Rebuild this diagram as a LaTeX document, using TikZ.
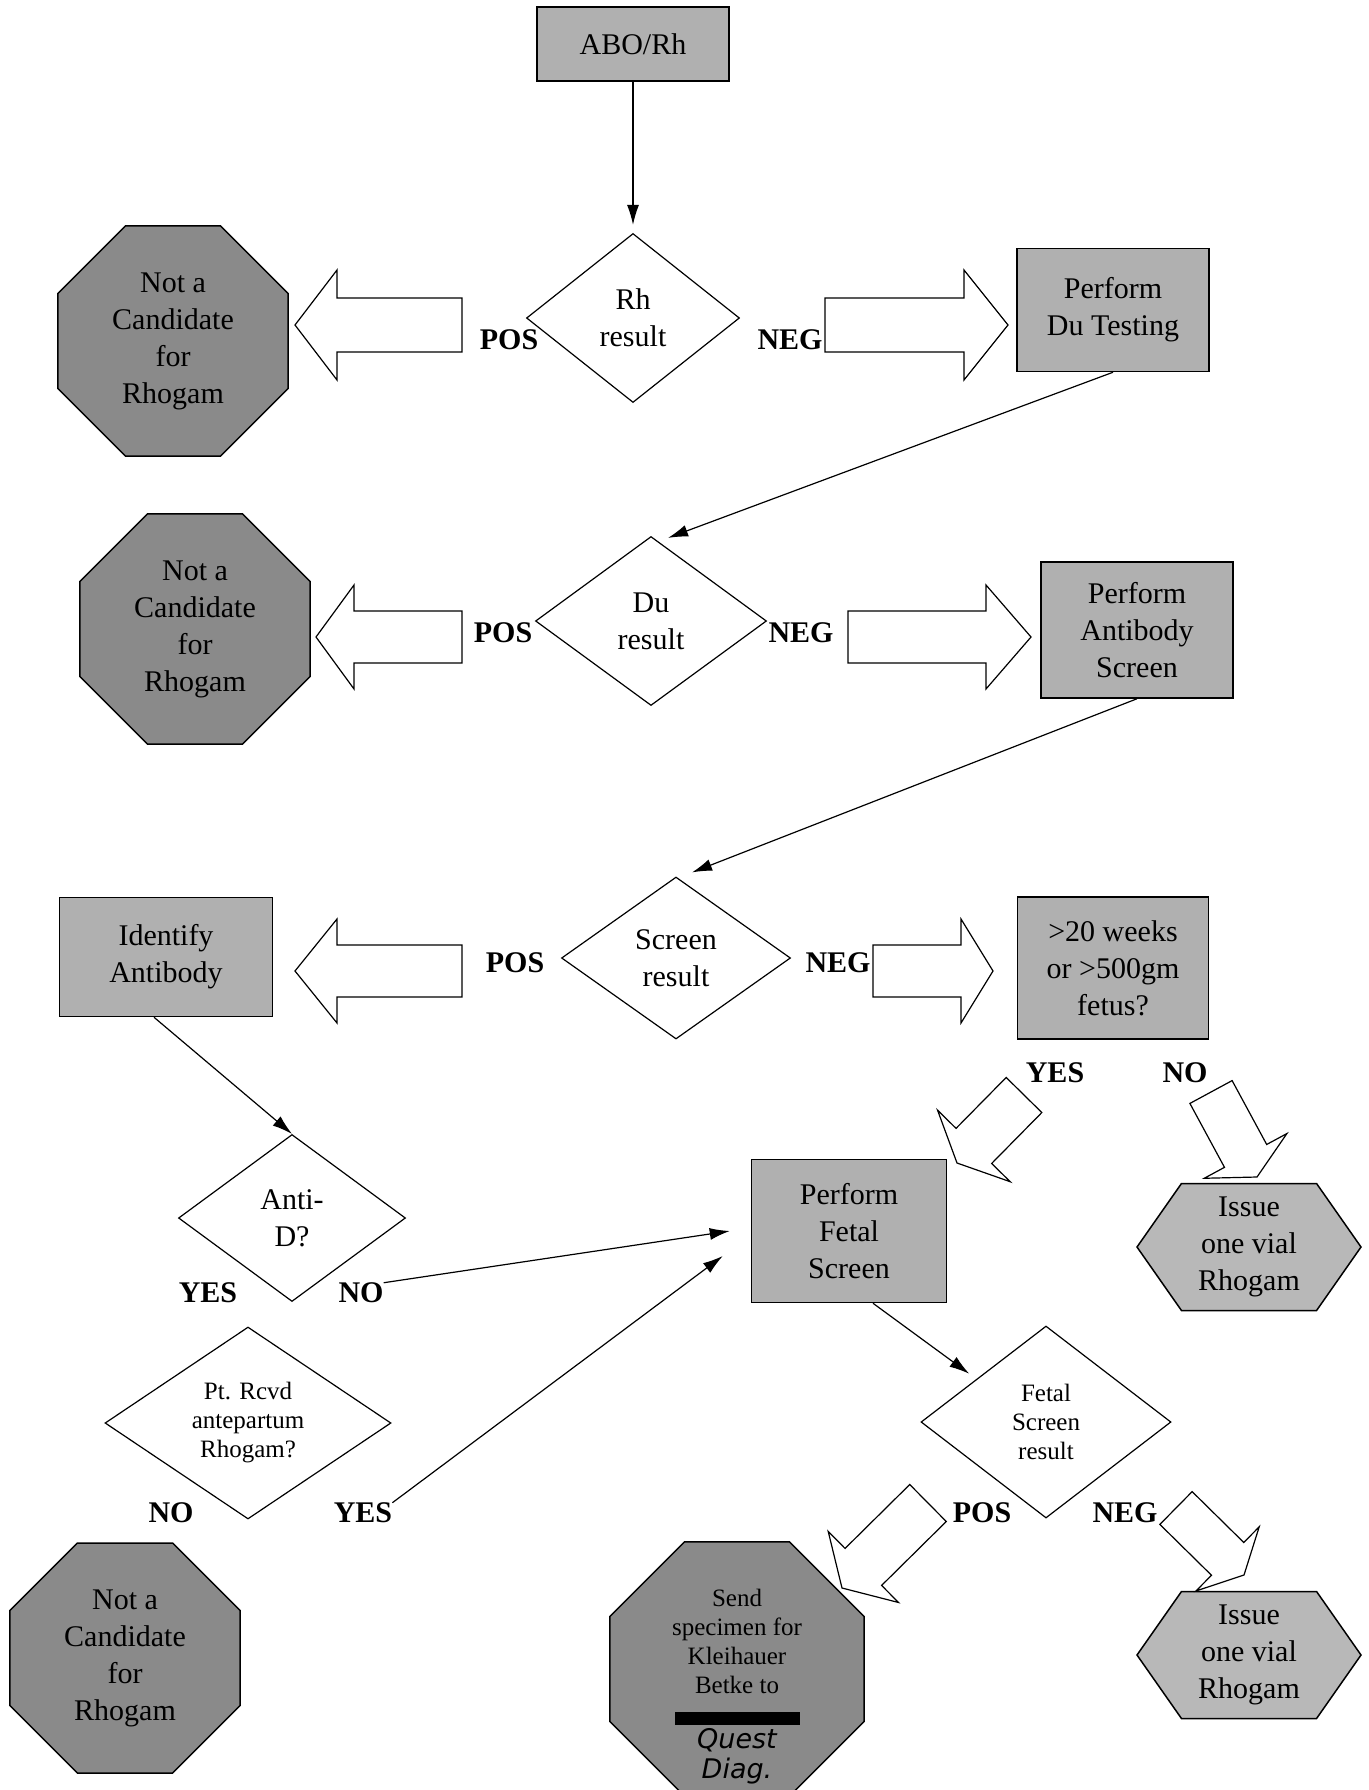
\documentclass[tikz,border=0pt]{standalone}
\usepackage{fontspec}
\setmainfont{Liberation Serif}
\newfontfamily\penfont{DejaVu Sans}
\usepackage{xcolor}
\usetikzlibrary{arrows.meta}
\usetikzlibrary{calc}
\usetikzlibrary{shapes.geometric, shapes.symbols}
\definecolor{boxgray}{RGB}{176,176,176}
\definecolor{octgray}{RGB}{138,138,138}
\definecolor{hexgray}{RGB}{184,184,184}
\newcommand{\bigtxt}{\fontsize{30}{37}\selectfont}
\newcommand{\smalltxt}{\fontsize{25}{29}\selectfont}
\newcommand{\pentxt}{\penfont\itshape\fontsize{27}{25}\selectfont}
% hollow arrow: tail, tip, half body, half head, head length
\newcommand{\fatarrow}[5]{%
  \coordinate (fa) at ($(#2)!#5!(#1)$);
  \draw[fatline] ($(#1)!#3!90:(#2)$) -- ($(fa)!#3!90:(#2)$) -- ($(fa)!#4!90:(#2)$) -- (#2)
    -- ($(fa)!#4!-90:(#2)$) -- ($(fa)!#3!-90:(#2)$) -- ($(#1)!#3!-90:(#2)$) -- cycle;
}

\begin{document}
\begin{tikzpicture}[x=1pt, y=-1pt,
  box/.style={rectangle, draw, line width=1.5pt, fill=boxgray, inner sep=0pt, align=center, font=\bigtxt},
  dia/.style={diamond, draw, line width=1.2pt, fill=white, inner sep=0pt, align=center, font=\bigtxt},
  octa/.style={regular polygon, regular polygon sides=8, draw, line width=1.5pt, fill=octgray, inner sep=0pt, align=center, font=\bigtxt},
  hexa/.style={signal, signal to=west and east, signal pointer angle=110, draw, line width=1.5pt, fill=hexgray, inner sep=0pt, align=center, font=\bigtxt},
  lbl/.style={font=\bigtxt\bfseries, inner sep=0pt},
  fatline/.style={line width=1.2pt, fill=white},
  thin/.style={line width=1.2pt, -{Latex[length=20pt,width=12pt]}}]

  \fill[white] (0,0) rectangle (1368,1790);
  \useasboundingbox (0,0) rectangle (1368,1790);

%row 1:
  \node[box, minimum width=192pt, minimum height=74pt] (abo) at (633,44) {ABO/Rh};
  \node[dia, minimum width=213pt, minimum height=169pt, aspect=1.26] (rh) at (633,318) {Rh\\result};
  \node[octa, minimum size=249pt] (nc1) at (173,341) {Not a\\Candidate\\for\\Rhogam};
  \node[box, minimum width=192pt, minimum height=123pt] (du) at (1113,310) {Perform\\Du Testing};

%row 2:
  \node[dia, minimum width=231pt, minimum height=169pt, aspect=1.37] (dures) at (651,621) {Du\\result};
  \node[octa, minimum size=249pt] (nc2) at (195,629) {Not a\\Candidate\\for\\Rhogam};
  \node[box, minimum width=192pt, minimum height=136pt] (abs) at (1137,630) {Perform\\Antibody\\Screen};

%row 3:
  \node[dia, minimum width=229pt, minimum height=162pt, aspect=1.41] (scr) at (676,958) {Screen\\result};
  \node[box, minimum width=213pt, minimum height=119pt] (ident) at (166,957) {Identify\\Antibody};
  \node[box, minimum width=191pt, minimum height=142pt] (wk) at (1113,968) {>20 weeks\\or >500gm\\fetus?};

%row 4:
  \node[dia, minimum width=227pt, minimum height=167pt, aspect=1.36] (antid) at (292,1218) {Anti-\\D?};
  \node[box, minimum width=195pt, minimum height=143pt] (fetal) at (849,1231) {Perform\\Fetal\\Screen};
  \node[hexa, minimum width=224pt, minimum height=127pt] (iss1) at (1249,1247) {Issue\\one vial\\Rhogam};

%row 5:
  \node[dia, minimum width=286pt, minimum height=192pt, aspect=1.49, font=\smalltxt] (pt) at (248,1423) {Pt. Rcvd\\antepartum\\Rhogam?};
  \node[dia, minimum width=250pt, minimum height=192pt, aspect=1.3, font=\smalltxt] (fres) at (1046,1422) {Fetal\\Screen\\result};
  \node[octa, minimum size=249pt] (nc3) at (125,1658) {Not a\\Candidate\\for\\Rhogam};
  \node[octa, minimum size=275pt, font=\smalltxt] (kb) at (737,1669)
    {\smash{\raisebox{-24pt}{\begin{tabular}{@{}c@{}}
      Send\\specimen for\\Kleihauer\\Betke to\\[2pt]
      \rule{125pt}{13pt}\\[-5pt]
      \pentxt Quest\\ \pentxt Diag.
    \end{tabular}}}};
  \node[hexa, minimum width=224pt, minimum height=127pt] (iss2) at (1249,1655) {Issue\\one vial\\Rhogam};

%labels
  \node[lbl] (posRh) at (509,340) {POS};
  \node[lbl] (negRh) at (790,340) {NEG};
  \node[lbl] (posDu) at (503,633) {POS};
  \node[lbl] (negDu) at (801,633) {NEG};
  \node[lbl] (posScr) at (515,963) {POS};
  \node[lbl] (negScr) at (838,963) {NEG};
  \node[lbl] (yesWk) at (1055,1073) {YES};
  \node[lbl] (noWk) at (1185,1073) {NO};
  \node[lbl] (yesA) at (208,1293) {YES};
  \node[lbl] (noA) at (361,1293) {NO};
  \node[lbl] (noP) at (171,1513) {NO};
  \node[lbl] (yesP) at (363,1513) {YES};
  \node[lbl] (posF) at (982,1513) {POS};
  \node[lbl] (negF) at (1125,1513) {NEG};

%hollow arrows
  \coordinate (r1lt) at (462,325);  \coordinate (r1lh) at (295,325);
  \coordinate (r1rt) at (825,325);  \coordinate (r1rh) at (1008,325);
  \coordinate (r2lt) at (462,637);  \coordinate (r2lh) at (316,637);
  \coordinate (r2rt) at (848,637);  \coordinate (r2rh) at (1031,637);
  \coordinate (r3lt) at (462,971);  \coordinate (r3lh) at (295,971);
  \coordinate (r3rt) at (873,971);  \coordinate (r3rh) at (993,971);
  \coordinate (ywt) at (1024,1095); \coordinate (ywh) at (957,1163);
  \coordinate (nwt) at (1211,1092); \coordinate (nwh) at (1257,1177);
  \coordinate (pft) at (928,1503);  \coordinate (pfh) at (842,1588);
  \coordinate (nft) at (1176,1508); \coordinate (nfh) at (1244,1575);
  \fatarrow{r1lt}{r1lh}{27pt}{55pt}{42pt}
  \fatarrow{r1rt}{r1rh}{27pt}{55pt}{44pt}
  \fatarrow{r2lt}{r2lh}{26pt}{52pt}{38pt}
  \fatarrow{r2rt}{r2rh}{26pt}{52pt}{45pt}
  \fatarrow{r3lt}{r3lh}{26pt}{52pt}{42pt}
  \fatarrow{r3rt}{r3rh}{26pt}{52pt}{32pt}
  \fatarrow{ywt}{ywh}{25pt}{51pt}{24pt}
  \fatarrow{nwt}{nwh}{24pt}{47pt}{24pt}
  \fatarrow{pft}{pfh}{26pt}{50pt}{30pt}
  \fatarrow{nft}{nfh}{23pt}{45pt}{23pt}

%thin arrows
  \draw[thin] (abo.south) -- ([yshift=8pt]rh.north);
  \draw[thin] (du.south) -- ($(dures.north)+(17,2)$);
  \draw[thin] (abs.south) -- ($(scr.north)+(16,-4)$);
  \draw[thin] ([xshift=-12pt]ident.south) -- (antid.north);
  \draw[thin] (noA.north east) -- ([xshift=-21pt]fetal.west);
  \draw[thin] (yesP.north east) -- ([xshift=-28pt,yshift=-25pt]fetal.west);
  \draw[thin] ([xshift=24pt]fetal.south) -- ([xshift=-14pt]fres.north west);
\end{tikzpicture}
\end{document}
